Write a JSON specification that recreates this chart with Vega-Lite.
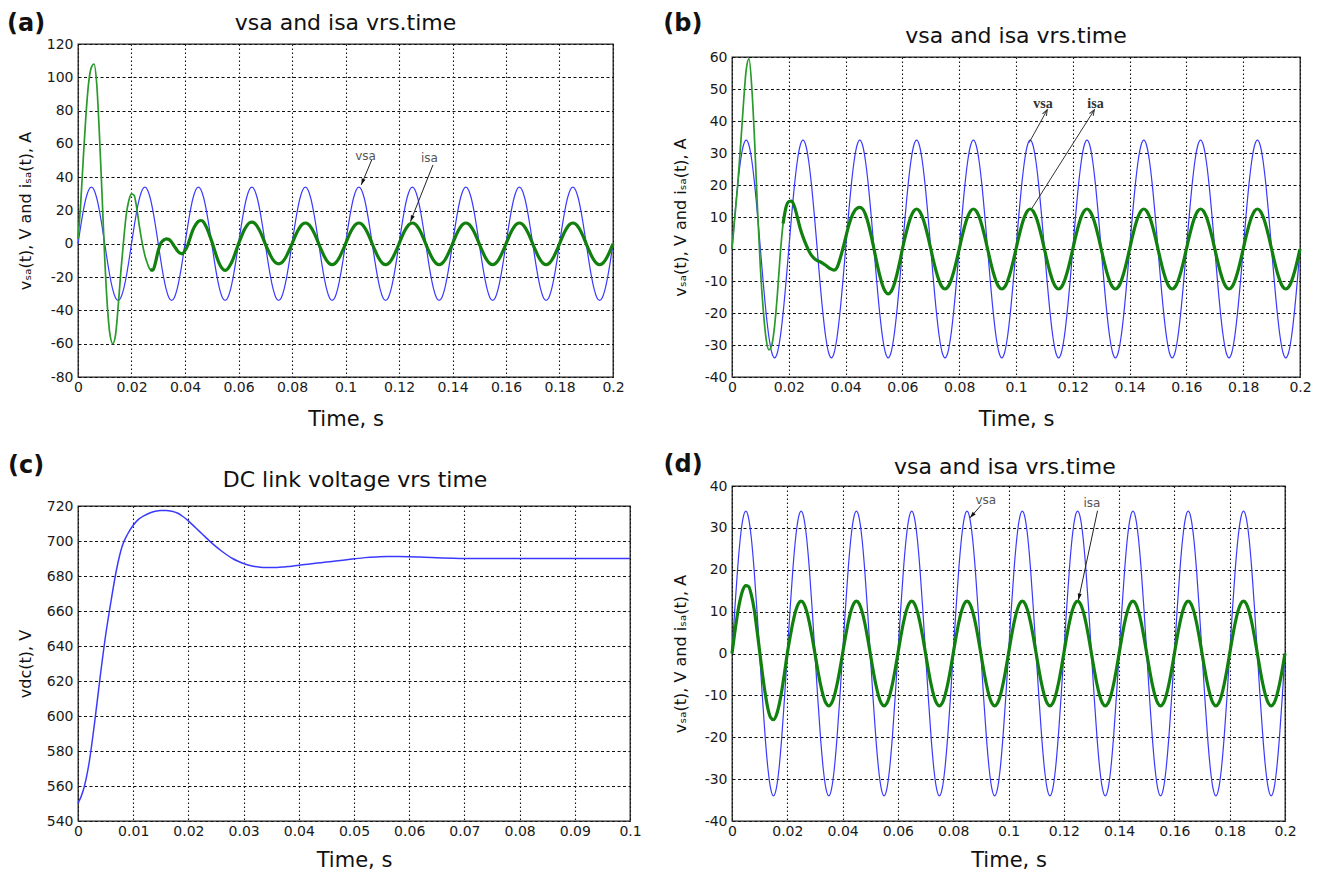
{
"$schema": "https://vega.github.io/schema/vega-lite/v6.json",
"background": "white",
"padding": {"left": 6, "top": 11, "right": 4, "bottom": 0},
"config": {
  "view": {"stroke": "#222", "strokeWidth": 1.3},
  "axis": {"labelFont": "DejaVu Sans", "labelFontSize": 14, "labelColor": "#1a1a1a", "titleFont": "DejaVu Sans", "titleFontWeight": "normal", "titleColor": "#111", "ticks": false, "tickSize": 0, "tickCount": 20, "domain": false, "grid": true, "gridColor": "#111", "gridWidth": 1.1, "labelFlush": false, "labelOverlap": false, "labelExpr": "replace(format(datum.value, '~g'), '\u2212', '-')"},
  "axisX": {"gridDash": [1.5, 2.5], "labelPadding": 3, "titleFontSize": 21, "titlePadding": 14},
  "axisY": {"gridDash": [3, 2.5], "labelPadding": 5, "titleFontSize": 16, "titlePadding": 13}
},
"datasets": {
  "w": [
{"t":0,"v":0,"a":3,"b":0,"d":0},
{"t":0.001,"v":10.51,"a":24,"b":10,"d":5},
{"t":0.002,"v":19.98,"a":52,"b":20,"d":9.5},
{"t":0.003,"v":27.51,"a":78,"b":32,"d":13},
{"t":0.004,"v":32.34,"a":97,"b":45,"d":15.3},
{"t":0.005,"v":34,"a":106,"b":56,"d":16.2},
{"t":0.006,"v":32.34,"a":108,"b":59.5,"d":16},
{"t":0.007,"v":27.51,"a":96,"b":50,"d":14},
{"t":0.008,"v":19.98,"a":66,"b":33,"d":10.6},
{"t":0.009,"v":10.51,"a":29,"b":12,"d":5.8},
{"t":0.01,"v":0,"a":-9,"b":-6,"d":0.5},
{"t":0.011,"v":-10.51,"a":-38,"b":-19,"d":-4.8},
{"t":0.012,"v":-19.98,"a":-55,"b":-28,"d":-9.5},
{"t":0.013,"v":-27.51,"a":-60,"b":-31.5,"d":-13.2},
{"t":0.014,"v":-32.34,"a":-55,"b":-30,"d":-15.3},
{"t":0.015,"v":-34,"a":-38,"b":-24,"d":-15.8},
{"t":0.016,"v":-32.34,"a":-17,"b":-14,"d":-14.8},
{"t":0.017,"v":-27.51,"a":1,"b":-1.5,"d":-12.4},
{"t":0.018,"v":-19.98,"a":17,"b":8,"d":-8.9},
{"t":0.019,"v":-10.51,"a":26,"b":13,"d":-4.6},
{"t":0.02,"v":0,"a":30,"b":14.8,"d":0},
{"t":0.021,"v":10.51,"a":29,"b":15,"d":3.86},
{"t":0.022,"v":19.98,"a":21,"b":13.2,"d":7.35},
{"t":0.023,"v":27.51,"a":10,"b":10,"d":10.11},
{"t":0.024,"v":32.34,"a":0.5,"b":6.5,"d":11.89},
{"t":0.025,"v":34,"a":-7,"b":3.8,"d":12.5},
{"t":0.026,"v":32.34,"a":-12,"b":1.5,"d":11.89},
{"t":0.027,"v":27.51,"a":-15.5,"b":-0.5,"d":10.11},
{"t":0.028,"v":19.98,"a":-15.8,"b":-2,"d":7.35},
{"t":0.029,"v":10.51,"a":-11,"b":-3,"d":3.86},
{"t":0.03,"v":0,"a":-4,"b":-3.6,"d":0},
{"t":0.031,"v":-10.51,"a":0.5,"b":-4,"d":-3.86},
{"t":0.032,"v":-19.98,"a":2.2,"b":-4.5,"d":-7.35},
{"t":0.033,"v":-27.51,"a":3,"b":-5.1,"d":-10.11},
{"t":0.034,"v":-32.34,"a":2.6,"b":-5.8,"d":-11.89},
{"t":0.035,"v":-34,"a":1,"b":-6.3,"d":-12.5},
{"t":0.036,"v":-32.34,"a":-1.5,"b":-6.6,"d":-11.89},
{"t":0.037,"v":-27.51,"a":-3.8,"b":-5.8,"d":-10.11},
{"t":0.038,"v":-19.98,"a":-5.5,"b":-3.2,"d":-7.35},
{"t":0.039,"v":-10.51,"a":-6,"b":0,"d":-3.86},
{"t":0.04,"v":0,"a":-4,"b":3.5,"d":0},
{"t":0.041,"v":10.51,"a":-1,"b":7,"d":3.86},
{"t":0.042,"v":19.98,"a":4,"b":9.8,"d":7.35},
{"t":0.043,"v":27.51,"a":8.5,"b":11.7,"d":10.11},
{"t":0.044,"v":32.34,"a":11.5,"b":12.7,"d":11.89},
{"t":0.045,"v":34,"a":13.5,"b":13,"d":12.5},
{"t":0.046,"v":32.34,"a":14,"b":12.5,"d":11.89},
{"t":0.047,"v":27.51,"a":13,"b":10.8,"d":10.11},
{"t":0.048,"v":19.98,"a":10,"b":7.9,"d":7.35},
{"t":0.049,"v":10.51,"a":6,"b":4.2,"d":3.86},
{"t":0.05,"v":0,"a":1.5,"b":0,"d":0},
{"t":0.051,"v":-10.51,"a":-3.5,"b":-4.3,"d":-3.86},
{"t":0.052,"v":-19.98,"a":-8.5,"b":-8.2,"d":-7.35},
{"t":0.053,"v":-27.51,"a":-12.5,"b":-11.3,"d":-10.11},
{"t":0.054,"v":-32.34,"a":-15,"b":-13.3,"d":-11.89},
{"t":0.055,"v":-34,"a":-16,"b":-14,"d":-12.5},
{"t":0.056,"v":-32.34,"a":-15,"b":-13.3,"d":-11.89},
{"t":0.057,"v":-27.51,"a":-12.5,"b":-11.3,"d":-10.11},
{"t":0.058,"v":-19.98,"a":-9,"b":-8.2,"d":-7.35},
{"t":0.059,"v":-10.51,"a":-4.5,"b":-4.3,"d":-3.86},
{"t":0.06,"v":0,"a":0,"b":0,"d":0},
{"t":0.061,"v":10.51,"a":4,"b":3.86,"d":3.86},
{"t":0.062,"v":19.98,"a":7.8,"b":7.35,"d":7.35},
{"t":0.063,"v":27.51,"a":10.6,"b":10.11,"d":10.11},
{"t":0.064,"v":32.34,"a":12.5,"b":11.89,"d":11.89},
{"t":0.065,"v":34,"a":13,"b":12.5,"d":12.5},
{"t":0.066,"v":32.34,"a":12.4,"b":11.89,"d":11.89},
{"t":0.067,"v":27.51,"a":10.5,"b":10.11,"d":10.11},
{"t":0.068,"v":19.98,"a":7.6,"b":7.35,"d":7.35},
{"t":0.069,"v":10.51,"a":4,"b":3.86,"d":3.86},
{"t":0.07,"v":0,"a":0,"b":0,"d":0},
{"t":0.071,"v":-10.51,"a":-3.7,"b":-3.86,"d":-3.86},
{"t":0.072,"v":-19.98,"a":-7.1,"b":-7.35,"d":-7.35},
{"t":0.073,"v":-27.51,"a":-9.8,"b":-10.11,"d":-10.11},
{"t":0.074,"v":-32.34,"a":-11.5,"b":-11.89,"d":-11.89},
{"t":0.075,"v":-34,"a":-12,"b":-12.5,"d":-12.5},
{"t":0.076,"v":-32.34,"a":-11.5,"b":-11.89,"d":-11.89},
{"t":0.077,"v":-27.51,"a":-9.8,"b":-10.11,"d":-10.11},
{"t":0.078,"v":-19.98,"a":-7.1,"b":-7.35,"d":-7.35},
{"t":0.079,"v":-10.51,"a":-3.7,"b":-3.86,"d":-3.86},
{"t":0.08,"v":0,"a":0,"b":0,"d":0},
{"t":0.081,"v":10.51,"a":3.86,"b":3.86,"d":3.86},
{"t":0.082,"v":19.98,"a":7.35,"b":7.35,"d":7.35},
{"t":0.083,"v":27.51,"a":10.11,"b":10.11,"d":10.11},
{"t":0.084,"v":32.34,"a":11.89,"b":11.89,"d":11.89},
{"t":0.085,"v":34,"a":12.5,"b":12.5,"d":12.5},
{"t":0.086,"v":32.34,"a":11.89,"b":11.89,"d":11.89},
{"t":0.087,"v":27.51,"a":10.11,"b":10.11,"d":10.11},
{"t":0.088,"v":19.98,"a":7.35,"b":7.35,"d":7.35},
{"t":0.089,"v":10.51,"a":3.86,"b":3.86,"d":3.86},
{"t":0.09,"v":0,"a":0,"b":0,"d":0},
{"t":0.091,"v":-10.51,"a":-3.86,"b":-3.86,"d":-3.86},
{"t":0.092,"v":-19.98,"a":-7.35,"b":-7.35,"d":-7.35},
{"t":0.093,"v":-27.51,"a":-10.11,"b":-10.11,"d":-10.11},
{"t":0.094,"v":-32.34,"a":-11.89,"b":-11.89,"d":-11.89},
{"t":0.095,"v":-34,"a":-12.5,"b":-12.5,"d":-12.5},
{"t":0.096,"v":-32.34,"a":-11.89,"b":-11.89,"d":-11.89},
{"t":0.097,"v":-27.51,"a":-10.11,"b":-10.11,"d":-10.11},
{"t":0.098,"v":-19.98,"a":-7.35,"b":-7.35,"d":-7.35},
{"t":0.099,"v":-10.51,"a":-3.86,"b":-3.86,"d":-3.86},
{"t":0.1,"v":0,"a":0,"b":0,"d":0},
{"t":0.101,"v":10.51,"a":3.86,"b":3.86,"d":3.86},
{"t":0.102,"v":19.98,"a":7.35,"b":7.35,"d":7.35},
{"t":0.103,"v":27.51,"a":10.11,"b":10.11,"d":10.11},
{"t":0.104,"v":32.34,"a":11.89,"b":11.89,"d":11.89},
{"t":0.105,"v":34,"a":12.5,"b":12.5,"d":12.5},
{"t":0.106,"v":32.34,"a":11.89,"b":11.89,"d":11.89},
{"t":0.107,"v":27.51,"a":10.11,"b":10.11,"d":10.11},
{"t":0.108,"v":19.98,"a":7.35,"b":7.35,"d":7.35},
{"t":0.109,"v":10.51,"a":3.86,"b":3.86,"d":3.86},
{"t":0.11,"v":0,"a":0,"b":0,"d":0},
{"t":0.111,"v":-10.51,"a":-3.86,"b":-3.86,"d":-3.86},
{"t":0.112,"v":-19.98,"a":-7.35,"b":-7.35,"d":-7.35},
{"t":0.113,"v":-27.51,"a":-10.11,"b":-10.11,"d":-10.11},
{"t":0.114,"v":-32.34,"a":-11.89,"b":-11.89,"d":-11.89},
{"t":0.115,"v":-34,"a":-12.5,"b":-12.5,"d":-12.5},
{"t":0.116,"v":-32.34,"a":-11.89,"b":-11.89,"d":-11.89},
{"t":0.117,"v":-27.51,"a":-10.11,"b":-10.11,"d":-10.11},
{"t":0.118,"v":-19.98,"a":-7.35,"b":-7.35,"d":-7.35},
{"t":0.119,"v":-10.51,"a":-3.86,"b":-3.86,"d":-3.86},
{"t":0.12,"v":0,"a":0,"b":0,"d":0},
{"t":0.121,"v":10.51,"a":3.86,"b":3.86,"d":3.86},
{"t":0.122,"v":19.98,"a":7.35,"b":7.35,"d":7.35},
{"t":0.123,"v":27.51,"a":10.11,"b":10.11,"d":10.11},
{"t":0.124,"v":32.34,"a":11.89,"b":11.89,"d":11.89},
{"t":0.125,"v":34,"a":12.5,"b":12.5,"d":12.5},
{"t":0.126,"v":32.34,"a":11.89,"b":11.89,"d":11.89},
{"t":0.127,"v":27.51,"a":10.11,"b":10.11,"d":10.11},
{"t":0.128,"v":19.98,"a":7.35,"b":7.35,"d":7.35},
{"t":0.129,"v":10.51,"a":3.86,"b":3.86,"d":3.86},
{"t":0.13,"v":0,"a":0,"b":0,"d":0},
{"t":0.131,"v":-10.51,"a":-3.86,"b":-3.86,"d":-3.86},
{"t":0.132,"v":-19.98,"a":-7.35,"b":-7.35,"d":-7.35},
{"t":0.133,"v":-27.51,"a":-10.11,"b":-10.11,"d":-10.11},
{"t":0.134,"v":-32.34,"a":-11.89,"b":-11.89,"d":-11.89},
{"t":0.135,"v":-34,"a":-12.5,"b":-12.5,"d":-12.5},
{"t":0.136,"v":-32.34,"a":-11.89,"b":-11.89,"d":-11.89},
{"t":0.137,"v":-27.51,"a":-10.11,"b":-10.11,"d":-10.11},
{"t":0.138,"v":-19.98,"a":-7.35,"b":-7.35,"d":-7.35},
{"t":0.139,"v":-10.51,"a":-3.86,"b":-3.86,"d":-3.86},
{"t":0.14,"v":0,"a":0,"b":0,"d":0},
{"t":0.141,"v":10.51,"a":3.86,"b":3.86,"d":3.86},
{"t":0.142,"v":19.98,"a":7.35,"b":7.35,"d":7.35},
{"t":0.143,"v":27.51,"a":10.11,"b":10.11,"d":10.11},
{"t":0.144,"v":32.34,"a":11.89,"b":11.89,"d":11.89},
{"t":0.145,"v":34,"a":12.5,"b":12.5,"d":12.5},
{"t":0.146,"v":32.34,"a":11.89,"b":11.89,"d":11.89},
{"t":0.147,"v":27.51,"a":10.11,"b":10.11,"d":10.11},
{"t":0.148,"v":19.98,"a":7.35,"b":7.35,"d":7.35},
{"t":0.149,"v":10.51,"a":3.86,"b":3.86,"d":3.86},
{"t":0.15,"v":0,"a":0,"b":0,"d":0},
{"t":0.151,"v":-10.51,"a":-3.86,"b":-3.86,"d":-3.86},
{"t":0.152,"v":-19.98,"a":-7.35,"b":-7.35,"d":-7.35},
{"t":0.153,"v":-27.51,"a":-10.11,"b":-10.11,"d":-10.11},
{"t":0.154,"v":-32.34,"a":-11.89,"b":-11.89,"d":-11.89},
{"t":0.155,"v":-34,"a":-12.5,"b":-12.5,"d":-12.5},
{"t":0.156,"v":-32.34,"a":-11.89,"b":-11.89,"d":-11.89},
{"t":0.157,"v":-27.51,"a":-10.11,"b":-10.11,"d":-10.11},
{"t":0.158,"v":-19.98,"a":-7.35,"b":-7.35,"d":-7.35},
{"t":0.159,"v":-10.51,"a":-3.86,"b":-3.86,"d":-3.86},
{"t":0.16,"v":0,"a":0,"b":0,"d":0},
{"t":0.161,"v":10.51,"a":3.86,"b":3.86,"d":3.86},
{"t":0.162,"v":19.98,"a":7.35,"b":7.35,"d":7.35},
{"t":0.163,"v":27.51,"a":10.11,"b":10.11,"d":10.11},
{"t":0.164,"v":32.34,"a":11.89,"b":11.89,"d":11.89},
{"t":0.165,"v":34,"a":12.5,"b":12.5,"d":12.5},
{"t":0.166,"v":32.34,"a":11.89,"b":11.89,"d":11.89},
{"t":0.167,"v":27.51,"a":10.11,"b":10.11,"d":10.11},
{"t":0.168,"v":19.98,"a":7.35,"b":7.35,"d":7.35},
{"t":0.169,"v":10.51,"a":3.86,"b":3.86,"d":3.86},
{"t":0.17,"v":0,"a":0,"b":0,"d":0},
{"t":0.171,"v":-10.51,"a":-3.86,"b":-3.86,"d":-3.86},
{"t":0.172,"v":-19.98,"a":-7.35,"b":-7.35,"d":-7.35},
{"t":0.173,"v":-27.51,"a":-10.11,"b":-10.11,"d":-10.11},
{"t":0.174,"v":-32.34,"a":-11.89,"b":-11.89,"d":-11.89},
{"t":0.175,"v":-34,"a":-12.5,"b":-12.5,"d":-12.5},
{"t":0.176,"v":-32.34,"a":-11.89,"b":-11.89,"d":-11.89},
{"t":0.177,"v":-27.51,"a":-10.11,"b":-10.11,"d":-10.11},
{"t":0.178,"v":-19.98,"a":-7.35,"b":-7.35,"d":-7.35},
{"t":0.179,"v":-10.51,"a":-3.86,"b":-3.86,"d":-3.86},
{"t":0.18,"v":0,"a":0,"b":0,"d":0},
{"t":0.181,"v":10.51,"a":3.86,"b":3.86,"d":3.86},
{"t":0.182,"v":19.98,"a":7.35,"b":7.35,"d":7.35},
{"t":0.183,"v":27.51,"a":10.11,"b":10.11,"d":10.11},
{"t":0.184,"v":32.34,"a":11.89,"b":11.89,"d":11.89},
{"t":0.185,"v":34,"a":12.5,"b":12.5,"d":12.5},
{"t":0.186,"v":32.34,"a":11.89,"b":11.89,"d":11.89},
{"t":0.187,"v":27.51,"a":10.11,"b":10.11,"d":10.11},
{"t":0.188,"v":19.98,"a":7.35,"b":7.35,"d":7.35},
{"t":0.189,"v":10.51,"a":3.86,"b":3.86,"d":3.86},
{"t":0.19,"v":0,"a":0,"b":0,"d":0},
{"t":0.191,"v":-10.51,"a":-3.86,"b":-3.86,"d":-3.86},
{"t":0.192,"v":-19.98,"a":-7.35,"b":-7.35,"d":-7.35},
{"t":0.193,"v":-27.51,"a":-10.11,"b":-10.11,"d":-10.11},
{"t":0.194,"v":-32.34,"a":-11.89,"b":-11.89,"d":-11.89},
{"t":0.195,"v":-34,"a":-12.5,"b":-12.5,"d":-12.5},
{"t":0.196,"v":-32.34,"a":-11.89,"b":-11.89,"d":-11.89},
{"t":0.197,"v":-27.51,"a":-10.11,"b":-10.11,"d":-10.11},
{"t":0.198,"v":-19.98,"a":-7.35,"b":-7.35,"d":-7.35},
{"t":0.199,"v":-10.51,"a":-3.86,"b":-3.86,"d":-3.86},
{"t":0.2,"v":0,"a":0,"b":0,"d":0}
  ],
  "dc": [
{"t":0,"v":550},{"t":0.001,"v":558},{"t":0.002,"v":573},{"t":0.003,"v":596},{"t":0.004,"v":622},{"t":0.005,"v":646},{"t":0.006,"v":666},{"t":0.007,"v":684},{"t":0.008,"v":697},{"t":0.009,"v":704},{"t":0.01,"v":709},{"t":0.011,"v":712.5},{"t":0.012,"v":714.5},{"t":0.013,"v":716},{"t":0.014,"v":717},{"t":0.015,"v":717.5},{"t":0.016,"v":717.5},{"t":0.017,"v":717},{"t":0.018,"v":716},{"t":0.019,"v":714},{"t":0.02,"v":711.5},{"t":0.021,"v":708.5},{"t":0.022,"v":705.5},{"t":0.023,"v":702.5},{"t":0.024,"v":699.5},{"t":0.025,"v":696.8},{"t":0.026,"v":694.3},{"t":0.027,"v":692},{"t":0.028,"v":690},{"t":0.029,"v":688.4},{"t":0.03,"v":687.1},{"t":0.031,"v":686.1},{"t":0.032,"v":685.4},{"t":0.033,"v":685},{"t":0.034,"v":684.8},{"t":0.035,"v":684.8},{"t":0.036,"v":684.9},{"t":0.037,"v":685.1},{"t":0.038,"v":685.4},{"t":0.039,"v":685.7},{"t":0.04,"v":686.1},{"t":0.042,"v":686.9},{"t":0.044,"v":687.6},{"t":0.046,"v":688.3},{"t":0.048,"v":689},{"t":0.05,"v":689.8},{"t":0.052,"v":690.5},{"t":0.054,"v":690.9},{"t":0.056,"v":691.1},{"t":0.058,"v":691.1},{"t":0.06,"v":691},{"t":0.062,"v":690.8},{"t":0.064,"v":690.6},{"t":0.066,"v":690.3},{"t":0.068,"v":690.1},{"t":0.07,"v":690},{"t":0.08,"v":690},{"t":0.09,"v":690},{"t":0.1,"v":690}
  ],
  "hdr": [
{"p":"a","k":"tag","lab":"(a)","t":-0.0194,"v":132},
{"p":"a","k":"ttl","lab":"vsa and isa vrs.time","t":0.1,"v":132.6},
{"p":"b","k":"tag","lab":"(b)","t":-0.0173,"v":70.3},
{"p":"b","k":"ttl","lab":"vsa and isa vrs.time","t":0.1,"v":66.6},
{"p":"c","k":"tag","lab":"(c)","t":-0.0094,"v":742.9},
{"p":"c","k":"ttl","lab":"DC link voltage vrs time","t":0.0502,"v":734.9},
{"p":"d","k":"tag","lab":"(d)","t":-0.0177,"v":45},
{"p":"d","k":"ttl","lab":"vsa and isa vrs.time","t":0.0987,"v":44.5}
  ],
  "annA": [{"lab":"vsa","t":0.1075,"v":53},{"lab":"isa","t":0.1314,"v":51.4}],
  "arrA": [{"lab":"vsa","t":0.1098,"v":50.4,"t2":0.1059,"v2":35.4},{"lab":"isa","t":0.1327,"v":47.4,"t2":0.1243,"v2":13.4}],
  "annB": [{"lab":"vsa","t":0.1095,"v":45.3},{"lab":"isa","t":0.128,"v":45.3}],
  "arrB": [{"lab":"vsa","t":0.1046,"v":33.2,"t2":0.111,"v2":43.5},{"lab":"isa","t":0.1056,"v":12.7,"t2":0.1276,"v2":43.5}],
  "annD": [{"lab":"vsa","t":0.0918,"v":36.7},{"lab":"isa","t":0.1302,"v":35.9}],
  "arrD": [{"lab":"vsa","t":0.0902,"v":35.5,"t2":0.0861,"v2":32.4},{"lab":"isa","t":0.1322,"v":34.1,"t2":0.1253,"v2":12.8}]
},
"spacing": 20,
"hconcat": [
 {"spacing": 23, "vconcat": [
  {"width": 535, "height": 333, "layer": [
    {"data": {"name": "w"}, "mark": {"type": "line", "color": "#3a3aff", "strokeWidth": 1.2, "interpolate": "monotone"},
     "encoding": {"x": {"field": "t", "type": "quantitative", "scale": {"domain": [0, 0.2], "nice": false, "zero": false}, "axis": {"values": [0, 0.02, 0.04, 0.06, 0.08, 0.1, 0.12, 0.14, 0.16, 0.18, 0.2], "tickCount": 20, "title": "Time, s"}},
                  "y": {"field": "v", "type": "quantitative", "scale": {"domain": [-80, 120], "nice": false, "zero": false}, "axis": {"values": [-80, -60, -40, -20, 0, 20, 40, 60, 80, 100, 120], "tickCount": 20, "title": "vₛₐ(t), V and iₛₐ(t), A"}}}},
    {"data": {"name": "w"}, "mark": {"type": "line", "color": "#2a9a2a", "strokeWidth": 1.7, "interpolate": "monotone"},
     "encoding": {"x": {"field": "t", "type": "quantitative"}, "y": {"field": "a", "type": "quantitative"}}},
    {"data": {"name": "w"}, "transform": [{"filter": "datum.t >= 0.027"}], "mark": {"type": "line", "color": "#11800f", "strokeWidth": 3.2, "interpolate": "monotone"},
     "encoding": {"x": {"field": "t", "type": "quantitative"}, "y": {"field": "a", "type": "quantitative"}}},
    {"data": {"name": "arrA"}, "mark": {"type": "rule", "color": "#222", "strokeWidth": 1},
     "encoding": {"x": {"field": "t", "type": "quantitative"}, "y": {"field": "v", "type": "quantitative"}, "x2": {"field": "t2"}, "y2": {"field": "v2"}}},
    {"data": {"name": "arrA"}, "transform": [{"filter": "datum.lab == 'vsa'"}], "mark": {"type": "point", "shape": "M0,0L-0.45,1.4L0.45,1.4Z", "filled": true, "size": 80, "angle": 202, "color": "#111", "opacity": 1},
     "encoding": {"x": {"field": "t2", "type": "quantitative"}, "y": {"field": "v2", "type": "quantitative"}}},
    {"data": {"name": "arrA"}, "transform": [{"filter": "datum.lab == 'isa'"}], "mark": {"type": "point", "shape": "M0,0L-0.45,1.4L0.45,1.4Z", "filled": true, "size": 80, "angle": 202, "color": "#111", "opacity": 1},
     "encoding": {"x": {"field": "t2", "type": "quantitative"}, "y": {"field": "v2", "type": "quantitative"}}},
    {"data": {"name": "annA"}, "mark": {"type": "text", "font": "DejaVu Sans", "fontSize": 12, "color": "#555"},
     "encoding": {"x": {"field": "t", "type": "quantitative"}, "y": {"field": "v", "type": "quantitative"}, "text": {"field": "lab"}}},
    {"data": {"name": "hdr"}, "transform": [{"filter": "datum.p == 'a' && datum.k == 'tag'"}], "mark": {"type": "text", "font": "DejaVu Sans", "fontSize": 24, "fontWeight": "bold", "color": "#111", "baseline": "middle"},
     "encoding": {"x": {"field": "t", "type": "quantitative"}, "y": {"field": "v", "type": "quantitative"}, "text": {"field": "lab"}}},
    {"data": {"name": "hdr"}, "transform": [{"filter": "datum.p == 'a' && datum.k == 'ttl'"}], "mark": {"type": "text", "font": "DejaVu Sans", "fontSize": 22, "color": "#111", "baseline": "middle"},
     "encoding": {"x": {"field": "t", "type": "quantitative"}, "y": {"field": "v", "type": "quantitative"}, "text": {"field": "lab"}}}
  ]},
  {"width": 552, "height": 315, "layer": [
    {"data": {"name": "dc"}, "mark": {"type": "line", "color": "#3a3aff", "strokeWidth": 1.5, "interpolate": "monotone"},
     "encoding": {"x": {"field": "t", "type": "quantitative", "scale": {"domain": [0, 0.1], "nice": false, "zero": false}, "axis": {"values": [0, 0.01, 0.02, 0.03, 0.04, 0.05, 0.06, 0.07, 0.08, 0.09, 0.1], "tickCount": 20, "title": "Time, s", "titlePadding": 11}},
                  "y": {"field": "v", "type": "quantitative", "scale": {"domain": [540, 720], "nice": false, "zero": false}, "axis": {"values": [540, 560, 580, 600, 620, 640, 660, 680, 700, 720], "tickCount": 20, "title": "vdc(t), V"}}}},
    {"data": {"name": "hdr"}, "transform": [{"filter": "datum.p == 'c' && datum.k == 'tag'"}], "mark": {"type": "text", "font": "DejaVu Sans", "fontSize": 24, "fontWeight": "bold", "color": "#111", "baseline": "middle"},
     "encoding": {"x": {"field": "t", "type": "quantitative"}, "y": {"field": "v", "type": "quantitative"}, "text": {"field": "lab"}}},
    {"data": {"name": "hdr"}, "transform": [{"filter": "datum.p == 'c' && datum.k == 'ttl'"}], "mark": {"type": "text", "font": "DejaVu Sans", "fontSize": 22, "color": "#111", "baseline": "middle"},
     "encoding": {"x": {"field": "t", "type": "quantitative"}, "y": {"field": "v", "type": "quantitative"}, "text": {"field": "lab"}}}
  ]}
 ]},
 {"spacing": -34, "vconcat": [
  {"width": 1, "height": 1, "data": {"values": []}, "mark": "point", "view": {"stroke": null}},
  {"spacing": 22, "vconcat": [
  {"width": 568, "height": 320, "layer": [
    {"data": {"name": "w"}, "mark": {"type": "line", "color": "#3a3aff", "strokeWidth": 1.2, "interpolate": "monotone"},
     "encoding": {"x": {"field": "t", "type": "quantitative", "scale": {"domain": [0, 0.2], "nice": false, "zero": false}, "axis": {"values": [0, 0.02, 0.04, 0.06, 0.08, 0.1, 0.12, 0.14, 0.16, 0.18, 0.2], "tickCount": 20, "title": "Time, s"}},
                  "y": {"field": "v", "type": "quantitative", "scale": {"domain": [-40, 60], "nice": false, "zero": false}, "axis": {"values": [-40, -30, -20, -10, 0, 10, 20, 30, 40, 50, 60], "tickCount": 20, "title": "vₛₐ(t), V and iₛₐ(t), A", "titlePadding": 16}}}},
    {"data": {"name": "w"}, "mark": {"type": "line", "color": "#2a9a2a", "strokeWidth": 1.7, "interpolate": "monotone"},
     "encoding": {"x": {"field": "t", "type": "quantitative"}, "y": {"field": "b", "type": "quantitative"}}},
    {"data": {"name": "w"}, "transform": [{"filter": "datum.t >= 0.018"}], "mark": {"type": "line", "color": "#11800f", "strokeWidth": 3.2, "interpolate": "monotone"},
     "encoding": {"x": {"field": "t", "type": "quantitative"}, "y": {"field": "b", "type": "quantitative"}}},
    {"data": {"name": "arrB"}, "mark": {"type": "rule", "color": "#333", "strokeWidth": 1},
     "encoding": {"x": {"field": "t", "type": "quantitative"}, "y": {"field": "v", "type": "quantitative"}, "x2": {"field": "t2"}, "y2": {"field": "v2"}}},
    {"data": {"name": "arrB"}, "transform": [{"filter": "datum.lab == 'vsa'"}], "mark": {"type": "point", "shape": "M-0.5,1.3L0,0L0.5,1.3", "filled": false, "size": 80, "angle": 29, "color": "#333", "strokeWidth": 1, "opacity": 1},
     "encoding": {"x": {"field": "t2", "type": "quantitative"}, "y": {"field": "v2", "type": "quantitative"}}},
    {"data": {"name": "arrB"}, "transform": [{"filter": "datum.lab == 'isa'"}], "mark": {"type": "point", "shape": "M-0.5,1.3L0,0L0.5,1.3", "filled": false, "size": 80, "angle": 32, "color": "#333", "strokeWidth": 1, "opacity": 1},
     "encoding": {"x": {"field": "t2", "type": "quantitative"}, "y": {"field": "v2", "type": "quantitative"}}},
    {"data": {"name": "annB"}, "mark": {"type": "text", "font": "Liberation Serif", "fontWeight": "bold", "fontSize": 14, "color": "#333"},
     "encoding": {"x": {"field": "t", "type": "quantitative"}, "y": {"field": "v", "type": "quantitative"}, "text": {"field": "lab"}}},
    {"data": {"name": "hdr"}, "transform": [{"filter": "datum.p == 'b' && datum.k == 'tag'"}], "mark": {"type": "text", "font": "DejaVu Sans", "fontSize": 24, "fontWeight": "bold", "color": "#111", "baseline": "middle"},
     "encoding": {"x": {"field": "t", "type": "quantitative"}, "y": {"field": "v", "type": "quantitative"}, "text": {"field": "lab"}}},
    {"data": {"name": "hdr"}, "transform": [{"filter": "datum.p == 'b' && datum.k == 'ttl'"}], "mark": {"type": "text", "font": "DejaVu Sans", "fontSize": 22, "color": "#111", "baseline": "middle"},
     "encoding": {"x": {"field": "t", "type": "quantitative"}, "y": {"field": "v", "type": "quantitative"}, "text": {"field": "lab"}}}
  ]},
  {"width": 553, "height": 335, "layer": [
    {"data": {"name": "w"}, "mark": {"type": "line", "color": "#3a3aff", "strokeWidth": 1.2, "interpolate": "monotone"},
     "encoding": {"x": {"field": "t", "type": "quantitative", "scale": {"domain": [0, 0.2], "nice": false, "zero": false}, "axis": {"values": [0, 0.02, 0.04, 0.06, 0.08, 0.1, 0.12, 0.14, 0.16, 0.18, 0.2], "tickCount": 20, "title": "Time, s", "titlePadding": 11}},
                  "y": {"field": "v", "type": "quantitative", "scale": {"domain": [-40, 40], "nice": false, "zero": false}, "axis": {"values": [-40, -30, -20, -10, 0, 10, 20, 30, 40], "tickCount": 20, "title": "vₛₐ(t), V and iₛₐ(t), A", "titlePadding": 16}}}},
    {"data": {"name": "w"}, "mark": {"type": "line", "color": "#11800f", "strokeWidth": 3.2, "interpolate": "monotone"},
     "encoding": {"x": {"field": "t", "type": "quantitative"}, "y": {"field": "d", "type": "quantitative"}}},
    {"data": {"name": "arrD"}, "mark": {"type": "rule", "color": "#222", "strokeWidth": 1},
     "encoding": {"x": {"field": "t", "type": "quantitative"}, "y": {"field": "v", "type": "quantitative"}, "x2": {"field": "t2"}, "y2": {"field": "v2"}}},
    {"data": {"name": "arrD"}, "transform": [{"filter": "datum.lab == 'vsa'"}], "mark": {"type": "point", "shape": "M0,0L-0.45,1.4L0.45,1.4Z", "filled": true, "size": 80, "angle": 221, "color": "#111", "opacity": 1},
     "encoding": {"x": {"field": "t2", "type": "quantitative"}, "y": {"field": "v2", "type": "quantitative"}}},
    {"data": {"name": "arrD"}, "transform": [{"filter": "datum.lab == 'isa'"}], "mark": {"type": "point", "shape": "M0,0L-0.45,1.4L0.45,1.4Z", "filled": true, "size": 80, "angle": 192, "color": "#111", "opacity": 1},
     "encoding": {"x": {"field": "t2", "type": "quantitative"}, "y": {"field": "v2", "type": "quantitative"}}},
    {"data": {"name": "annD"}, "mark": {"type": "text", "font": "DejaVu Sans", "fontSize": 12, "color": "#555"},
     "encoding": {"x": {"field": "t", "type": "quantitative"}, "y": {"field": "v", "type": "quantitative"}, "text": {"field": "lab"}}},
    {"data": {"name": "hdr"}, "transform": [{"filter": "datum.p == 'd' && datum.k == 'tag'"}], "mark": {"type": "text", "font": "DejaVu Sans", "fontSize": 24, "fontWeight": "bold", "color": "#111", "baseline": "middle"},
     "encoding": {"x": {"field": "t", "type": "quantitative"}, "y": {"field": "v", "type": "quantitative"}, "text": {"field": "lab"}}},
    {"data": {"name": "hdr"}, "transform": [{"filter": "datum.p == 'd' && datum.k == 'ttl'"}], "mark": {"type": "text", "font": "DejaVu Sans", "fontSize": 22, "color": "#111", "baseline": "middle"},
     "encoding": {"x": {"field": "t", "type": "quantitative"}, "y": {"field": "v", "type": "quantitative"}, "text": {"field": "lab"}}}
  ]}
  ]}
 ]}
]
}
